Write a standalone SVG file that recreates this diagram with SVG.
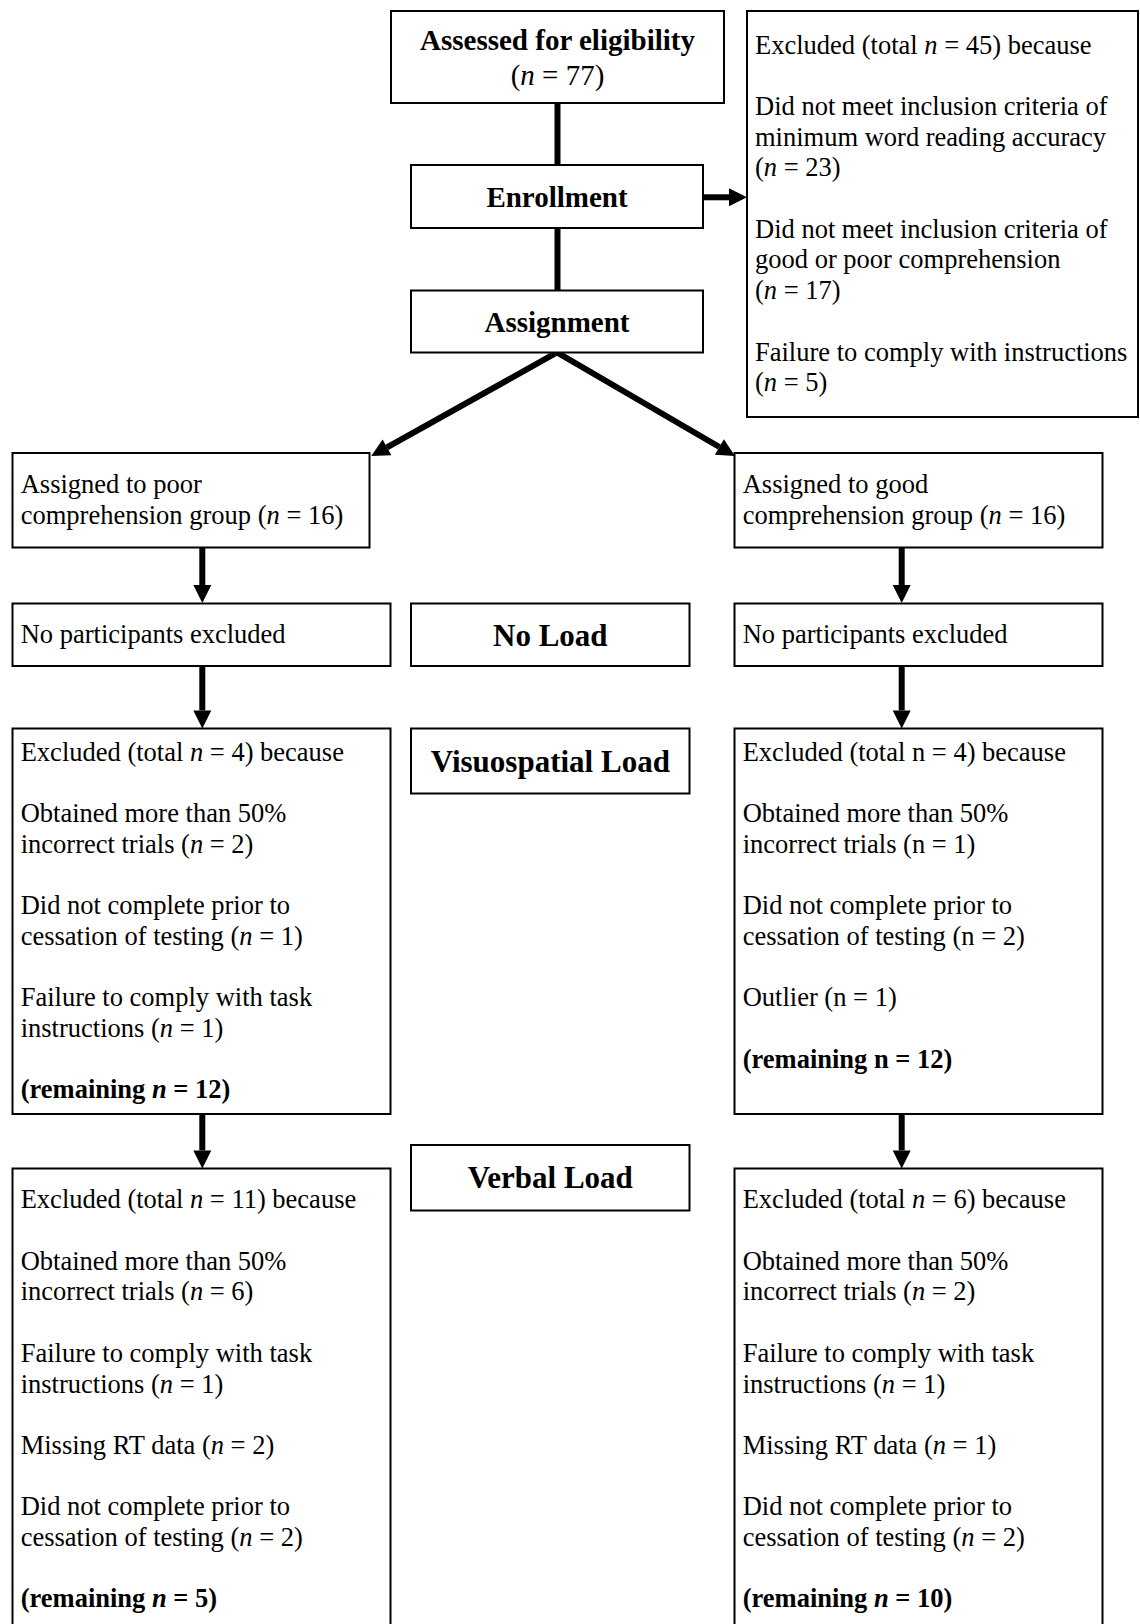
<svg xmlns="http://www.w3.org/2000/svg" width="1140" height="1624" viewBox="0 0 1140 1624">
<style>
.box{fill:#fff;stroke:#000;stroke-width:2}
.con{stroke:#000;stroke-width:6;fill:none}
.arr{stroke:#000;stroke-width:6;fill:none;marker-end:url(#ah)}
.split{stroke:#000;stroke-width:6;fill:none;marker-start:url(#ah);marker-end:url(#ah)}
text{font-family:"Liberation Serif","Times New Roman",serif;fill:#000}
.t{font-size:26.5px}
.ti{font-size:29px}
.tb{font-size:29px;font-weight:bold}
.lb{font-size:31px;font-weight:bold}
.b{font-weight:bold}
.i{font-style:italic}
</style>
<defs>
<marker id="ah" markerUnits="userSpaceOnUse" markerWidth="18" markerHeight="18" refX="0" refY="9" orient="auto-start-reverse" overflow="visible">
<path d="M0,0 L18,9 L0,18 Z" fill="#000"/>
</marker>
</defs>
<rect width="1140" height="1624" fill="#fff"/>
<g id="connectors">
<line class="con" x1="557.5" y1="103" x2="557.5" y2="165"/>
<line class="con" x1="557.5" y1="228" x2="557.5" y2="290.5"/>
<line class="arr" x1="703" y1="197.3" x2="729" y2="197.3"/>
<path class="split" d="M387,447.3 L557,352.5 L719.4,447"/>
<line class="arr" x1="202.3" y1="547.5" x2="202.3" y2="585"/>
<line class="arr" x1="202.3" y1="666" x2="202.3" y2="710.5"/>
<line class="arr" x1="202.3" y1="1114" x2="202.3" y2="1150.5"/>
<line class="arr" x1="901.7" y1="547.5" x2="901.7" y2="585"/>
<line class="arr" x1="901.7" y1="666" x2="901.7" y2="710.5"/>
<line class="arr" x1="901.7" y1="1114" x2="901.7" y2="1150.5"/>
</g>
<g id="assessed">
<rect class="box" x="391" y="11" width="333" height="92"/>
<text class="tb" x="557.5" y="50" text-anchor="middle">Assessed for eligibility</text>
<text class="ti" x="557.5" y="85" text-anchor="middle">(<tspan class="i">n</tspan> = 77)</text>
</g>
<g id="excluded-top">
<rect class="box" x="747" y="11" width="391" height="406"/>
<text class="t" x="755" y="53.5">Excluded (total <tspan class="i">n</tspan> = 45) because</text>
<text class="t" x="755" y="114.9">Did not meet inclusion criteria of</text>
<text class="t" x="755" y="145.6">minimum word reading accuracy</text>
<text class="t" x="755" y="176.3">(<tspan class="i">n</tspan> = 23)</text>
<text class="t" x="755" y="237.7">Did not meet inclusion criteria of</text>
<text class="t" x="755" y="268.4">good or poor comprehension</text>
<text class="t" x="755" y="299.1">(<tspan class="i">n</tspan> = 17)</text>
<text class="t" x="755" y="360.5">Failure to comply with instructions</text>
<text class="t" x="755" y="391.2">(<tspan class="i">n</tspan> = 5)</text>
</g>
<g id="enrollment">
<rect class="box" x="411" y="165" width="292" height="63"/>
<text class="tb" x="557" y="206.7" text-anchor="middle">Enrollment</text>
</g>
<g id="assignment">
<rect class="box" x="411" y="290.5" width="292" height="62"/>
<text class="tb" x="557" y="331.7" text-anchor="middle">Assignment</text>
</g>
<g id="poor-group">
<rect class="box" x="12.5" y="453" width="357" height="94.5"/>
<text class="t" x="20.7" y="493">Assigned to poor</text>
<text class="t" x="20.7" y="523.5">comprehension group (<tspan class="i">n</tspan> = 16)</text>
</g>
<g id="good-group">
<rect class="box" x="734.5" y="453" width="368" height="94.5"/>
<text class="t" x="742.7" y="493">Assigned to good</text>
<text class="t" x="742.7" y="523.5">comprehension group (<tspan class="i">n</tspan> = 16)</text>
</g>
<g id="noload-left">
<rect class="box" x="12.5" y="603.5" width="378" height="62.5"/>
<text class="t" x="20.7" y="642.7">No participants excluded</text>
</g>
<g id="noload-label">
<rect class="box" x="411" y="603.5" width="278.5" height="62.5"/>
<text class="lb" x="550.3" y="645.5" text-anchor="middle">No Load</text>
</g>
<g id="noload-right">
<rect class="box" x="734.5" y="603.5" width="368" height="62.5"/>
<text class="t" x="742.7" y="642.7">No participants excluded</text>
</g>
<g id="vs-left">
<rect class="box" x="12.5" y="728.5" width="378" height="385.5"/>
<text class="t" x="20.7" y="760.7">Excluded (total <tspan class="i">n</tspan> = 4) because</text>
<text class="t" x="20.7" y="822.1">Obtained more than 50%</text>
<text class="t" x="20.7" y="852.8">incorrect trials (<tspan class="i">n</tspan> = 2)</text>
<text class="t" x="20.7" y="914.2">Did not complete prior to</text>
<text class="t" x="20.7" y="944.9">cessation of testing (<tspan class="i">n</tspan> = 1)</text>
<text class="t" x="20.7" y="1006.3">Failure to comply with task</text>
<text class="t" x="20.7" y="1037">instructions (<tspan class="i">n</tspan> = 1)</text>
<text class="t b" x="20.7" y="1098.4">(remaining <tspan class="i">n</tspan> = 12)</text>
</g>
<g id="vs-label">
<rect class="box" x="411" y="728.5" width="278.5" height="65"/>
<text class="lb" x="550.3" y="771.5" text-anchor="middle">Visuospatial Load</text>
</g>
<g id="vs-right">
<rect class="box" x="734.5" y="728.5" width="368" height="385.5"/>
<text class="t" x="742.7" y="760.7">Excluded (total n = 4) because</text>
<text class="t" x="742.7" y="822.1">Obtained more than 50%</text>
<text class="t" x="742.7" y="852.8">incorrect trials (n = 1)</text>
<text class="t" x="742.7" y="914.2">Did not complete prior to</text>
<text class="t" x="742.7" y="944.9">cessation of testing (n = 2)</text>
<text class="t" x="742.7" y="1006.3">Outlier (n = 1)</text>
<text class="t b" x="742.7" y="1067.7">(remaining n = 12)</text>
</g>
<g id="verbal-label">
<rect class="box" x="411" y="1145" width="278.5" height="65.5"/>
<text class="lb" x="550.3" y="1188.3" text-anchor="middle">Verbal Load</text>
</g>
<g id="verbal-left">
<rect class="box" x="12.5" y="1168.5" width="378" height="470"/>
<text class="t" x="20.7" y="1208.3">Excluded (total <tspan class="i">n</tspan> = 11) because</text>
<text class="t" x="20.7" y="1269.7">Obtained more than 50%</text>
<text class="t" x="20.7" y="1300.4">incorrect trials (<tspan class="i">n</tspan> = 6)</text>
<text class="t" x="20.7" y="1361.8">Failure to comply with task</text>
<text class="t" x="20.7" y="1392.5">instructions (<tspan class="i">n</tspan> = 1)</text>
<text class="t" x="20.7" y="1453.9">Missing RT data (<tspan class="i">n</tspan> = 2)</text>
<text class="t" x="20.7" y="1515.3">Did not complete prior to</text>
<text class="t" x="20.7" y="1546">cessation of testing (<tspan class="i">n</tspan> = 2)</text>
<text class="t b" x="20.7" y="1607.4">(remaining <tspan class="i">n</tspan> = 5)</text>
</g>
<g id="verbal-right">
<rect class="box" x="734.5" y="1168.5" width="368" height="470"/>
<text class="t" x="742.7" y="1208.3">Excluded (total <tspan class="i">n</tspan> = 6) because</text>
<text class="t" x="742.7" y="1269.7">Obtained more than 50%</text>
<text class="t" x="742.7" y="1300.4">incorrect trials (<tspan class="i">n</tspan> = 2)</text>
<text class="t" x="742.7" y="1361.8">Failure to comply with task</text>
<text class="t" x="742.7" y="1392.5">instructions (<tspan class="i">n</tspan> = 1)</text>
<text class="t" x="742.7" y="1453.9">Missing RT data (<tspan class="i">n</tspan> = 1)</text>
<text class="t" x="742.7" y="1515.3">Did not complete prior to</text>
<text class="t" x="742.7" y="1546">cessation of testing (<tspan class="i">n</tspan> = 2)</text>
<text class="t b" x="742.7" y="1607.4">(remaining <tspan class="i">n</tspan> = 10)</text>
</g>
</svg>
